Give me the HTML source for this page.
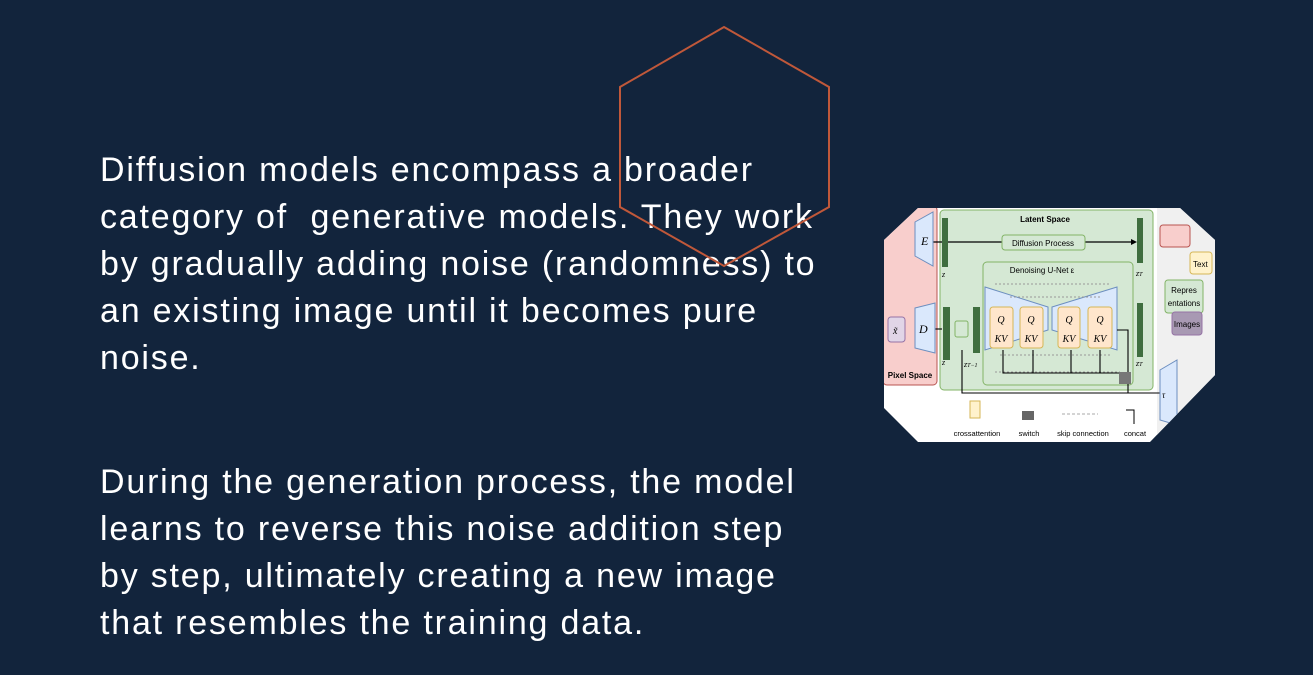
<!DOCTYPE html>
<html><head><style>
html,body{margin:0;padding:0;}
body{width:1313px;height:675px;background:#12243c;position:relative;overflow:hidden;font-family:"Liberation Sans",sans-serif;}
.t{position:absolute;left:100px;color:#fff;font-size:34px;line-height:47px;white-space:nowrap;letter-spacing:1.8px;}
svg{position:absolute;left:0;top:0;}
</style></head><body>
<div class="t" style="top:147px">Diffusion models encompass a broader<br>category of&nbsp; generative models. They work<br>by gradually adding noise (randomness) to<br>an existing image until it becomes pure<br>noise.</div>
<div class="t" style="top:459px">During the generation process, the model<br>learns to reverse this noise addition step<br>by step, ultimately creating a new image<br>that resembles the training data.</div>
<svg width="1313" height="675" viewBox="0 0 1313 675" font-family="Liberation Sans, sans-serif">
<defs><clipPath id="oc"><polygon points="918,208 1180,208 1215,240 1215,375 1150,442 918,442 884,408 884,240"/></clipPath></defs>
<g clip-path="url(#oc)">
<rect x="880" y="205" width="340" height="240" fill="#fff"/>
<rect x="1157" y="205" width="60" height="240" fill="#f0f0f0"/>
<rect x="883" y="206" width="54" height="179" rx="4" fill="#f8cecc" stroke="#b85450"/>
<text x="910" y="378" font-size="8" font-weight="bold" text-anchor="middle">Pixel Space</text>
<rect x="940" y="210" width="213" height="180" rx="4" fill="#d5e8d4" stroke="#82b366"/>
<text x="1045" y="222" font-size="8" font-weight="bold" text-anchor="middle">Latent Space</text>
<line x1="933" y1="242" x2="1135" y2="242" stroke="#000" stroke-width="1.2"/>
<polygon points="1137,242 1131,239 1131,245" fill="#000"/>
<rect x="1002" y="235" width="83" height="15" rx="3" fill="#d5e8d4" stroke="#82b366"/>
<text x="1043" y="246" font-size="8" text-anchor="middle">Diffusion Process</text>
<rect x="983" y="262" width="150" height="123" rx="4" fill="#d5e8d4" stroke="#82b366"/>
<text x="1042" y="273" font-size="8" text-anchor="middle">Denoising U-Net ε</text>
<polygon points="985,287 1048,307 1048,330 985,350" fill="#dae8fc" stroke="#6c8ebf"/>
<polygon points="1117,287 1052,307 1052,330 1117,350" fill="#dae8fc" stroke="#6c8ebf"/>
<g stroke="#999" stroke-dasharray="2,2"><line x1="995" y1="284" x2="1110" y2="284"/><line x1="1010" y1="297" x2="1100" y2="297"/><line x1="1000" y1="355" x2="1110" y2="355"/><line x1="995" y1="372" x2="1120" y2="372"/></g>
<g fill="#ffe6cc" stroke="#d6b656"><rect x="990" y="307" width="23" height="41" rx="3"/><rect x="1020" y="307" width="23" height="41" rx="3"/><rect x="1058" y="307" width="22" height="41" rx="3"/><rect x="1088" y="307" width="24" height="41" rx="3"/></g>
<g font-size="10" font-style="italic" font-family="Liberation Serif, serif" text-anchor="middle"><text x="1001" y="323">Q</text><text x="1001" y="342">KV</text><text x="1031" y="323">Q</text><text x="1031" y="342">KV</text><text x="1069" y="323">Q</text><text x="1069" y="342">KV</text><text x="1100" y="323">Q</text><text x="1100" y="342">KV</text></g>
<g stroke="#000" fill="none" stroke-width="1.1"><path d="M1003,350 V373 H1120"/><path d="M1033,350 V373"/><path d="M1071,350 V373"/><path d="M1100,350 V373"/><path d="M962,350 V393 H1160"/><path d="M1128,393 V330 H1117"/><path d="M935,329 H942"/></g>
<rect x="1119" y="372" width="12" height="12" fill="#777"/>
<g fill="#3f6e3f"><rect x="942" y="218" width="6" height="49"/><rect x="1137" y="218" width="6" height="45"/><rect x="943" y="307" width="7" height="53"/><rect x="973" y="307" width="7" height="46"/><rect x="1137" y="303" width="6" height="54"/></g>
<rect x="955" y="321" width="13" height="16" rx="2" fill="#d5e8d4" stroke="#82b366"/>
<g font-size="8" font-style="italic" font-family="Liberation Serif, serif"><text x="942" y="277">z</text><text x="1136" y="276">z<tspan font-size="6">T</tspan></text><text x="942" y="365">z</text><text x="964" y="367">z<tspan font-size="6">T−1</tspan></text><text x="1136" y="366">z<tspan font-size="6">T</tspan></text></g>
<polygon points="915,222 933,212 933,266 915,256" fill="#dae8fc" stroke="#6c8ebf"/>
<text x="921" y="245" font-size="12" font-style="italic" font-family="Liberation Serif, serif">E</text>
<polygon points="915,308 935,303 935,353 915,348" fill="#dae8fc" stroke="#6c8ebf"/>
<text x="919" y="333" font-size="12" font-style="italic" font-family="Liberation Serif, serif">D</text>
<rect x="888" y="317" width="17" height="25" rx="3" fill="#e1d5e7" stroke="#9673a6"/>
<text x="893" y="334" font-size="10" font-style="italic" font-family="Liberation Serif, serif">x̃</text>
<polygon points="1160,370 1177,360 1177,425 1160,420" fill="#dae8fc" stroke="#6c8ebf"/>
<text x="1162" y="398" font-size="9" font-style="italic" font-family="Liberation Serif, serif">τ</text>
<rect x="1165" y="280" width="38" height="33" rx="3" fill="#d5e8d4" stroke="#82b366"/>
<text x="1184" y="293" font-size="8" text-anchor="middle">Repres</text><text x="1184" y="306" font-size="8" text-anchor="middle">entations</text>
<rect x="1172" y="312" width="30" height="23" rx="3" fill="#a899b3" stroke="#9673a6"/>
<text x="1187" y="327" font-size="8" text-anchor="middle">Images</text>
<rect x="1160" y="225" width="30" height="22" rx="3" fill="#f8cecc" stroke="#b85450"/>
<rect x="1190" y="252" width="22" height="22" rx="3" fill="#fff2cc" stroke="#d6b656"/>
<text x="1193" y="267" font-size="8">Text</text>
<rect x="970" y="401" width="10" height="17" fill="#fff2cc" stroke="#d6b656"/>
<rect x="1022" y="411" width="12" height="9" fill="#666"/>
<line x1="1062" y1="414" x2="1098" y2="414" stroke="#aaa" stroke-dasharray="3,2"/>
<path d="M1126,410 H1134 V424" stroke="#000" fill="none"/>
<g font-size="7.5" text-anchor="middle"><text x="977" y="436">crossattention</text><text x="1029" y="436">switch</text><text x="1083" y="436">skip connection</text><text x="1135" y="436">concat</text></g>
</g>
<polygon points="724,27 829,87 829,207 724,266 620,207 620,87" fill="none" stroke="#c0583a" stroke-width="2"/>
</svg>
</body></html>
